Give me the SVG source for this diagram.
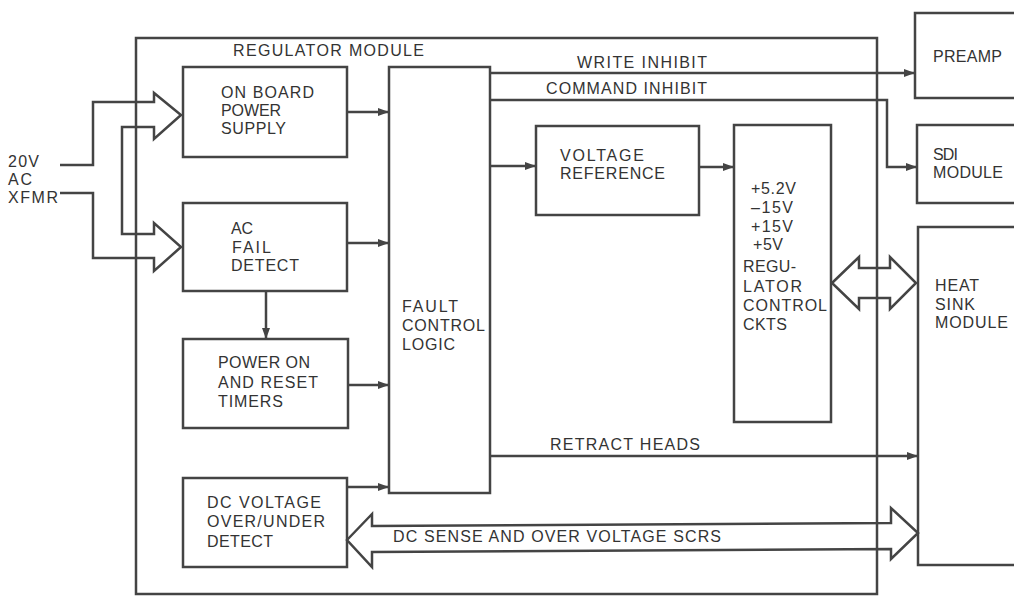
<svg xmlns="http://www.w3.org/2000/svg" width="1014" height="597" viewBox="0 0 1014 597">
<style>
.box{fill:none;stroke:#444;stroke-width:2.5}
.ln{fill:none;stroke:#444;stroke-width:2.5;stroke-linejoin:miter}
.ar{marker-end:url(#ah)}
.t{font-family:"Liberation Sans",Arial,Helvetica,sans-serif;font-size:16px;fill:#333}
.s{font-size:16px}
</style>
<defs>
<marker id="ah" markerUnits="userSpaceOnUse" markerWidth="11" markerHeight="8" refX="11" refY="4" orient="auto">
<path d="M0,0 L11,4 L0,8 z" fill="#444"/>
</marker>
</defs>
<rect width="1014" height="597" fill="#fff"/>

<g id="connectors">
<path class="ln" d="M60,165 H93 V102 H154 V93 L181,115 L154,139 V127 H122 V234 H154 V223 L181,247 L154,271 V258 H93 V193 H60"/>
<path class="ln ar" d="M347,112 H389"/>
<path class="ln ar" d="M347,243 H389"/>
<path class="ln ar" d="M266,291 V339"/>
<path class="ln ar" d="M348,385 H389"/>
<path class="ln ar" d="M347,487 H389"/>
<path class="ln ar" d="M490,166 H536"/>
<path class="ln ar" d="M699,167 H734"/>
<path class="ln ar" d="M490,73 H915"/>
<path class="ln ar" d="M490,100 H887 V167 H917"/>
<path class="ln ar" d="M490,456 H918"/>
<polygon class="ln" points="832,283 859,257 859,268 890,268 890,257 916,283 890,309 890,298 859,298 859,309"/>
<polygon class="ln" points="347,540 372,514 372,526 891,523 891,508 918,533 891,559 891,549 372,552 372,567"/>
<text class="t" x="550" y="450" textLength="150" lengthAdjust="spacing">RETRACT HEADS</text>
<text class="t" x="577" y="68" textLength="130" lengthAdjust="spacing">WRITE INHIBIT</text>
<text class="t" x="546" y="94" textLength="161" lengthAdjust="spacing">COMMAND INHIBIT</text>
<text class="t" x="393" y="542" textLength="328" lengthAdjust="spacing">DC SENSE AND OVER VOLTAGE SCRS</text>
</g>

<g id="input">
<text class="t" x="8" y="167" textLength="31" lengthAdjust="spacing">20V</text>
<text class="t" x="8" y="185" textLength="24" lengthAdjust="spacing">AC</text>
<text class="t" x="8" y="203" textLength="50" lengthAdjust="spacing">XFMR</text>
</g>

<g id="regulator-module">
<rect class="box" x="136" y="38" width="741" height="556"/>
<text class="t" x="233" y="56" textLength="191" lengthAdjust="spacing">REGULATOR MODULE</text>
</g>

<g id="on-board-power-supply">
<rect class="box" x="183" y="67" width="164" height="90"/>
<text class="t" x="221" y="98" textLength="93" lengthAdjust="spacing">ON BOARD</text>
<text class="t" x="221" y="116" textLength="60" lengthAdjust="spacing">POWER</text>
<text class="t" x="221" y="134" textLength="65" lengthAdjust="spacing">SUPPLY</text>
</g>

<g id="ac-fail-detect">
<rect class="box" x="183" y="203" width="164" height="88"/>
<text class="t" x="231" y="234" textLength="22" lengthAdjust="spacing">AC</text>
<text class="t" x="232" y="253" textLength="39" lengthAdjust="spacing">FAIL</text>
<text class="t" x="231" y="271" textLength="68" lengthAdjust="spacing">DETECT</text>
</g>

<g id="power-on-reset-timers">
<rect class="box" x="183" y="339" width="165" height="89"/>
<text class="t" x="218" y="368" textLength="92" lengthAdjust="spacing">POWER ON</text>
<text class="t" x="218" y="388" textLength="100" lengthAdjust="spacing">AND RESET</text>
<text class="t" x="218" y="407" textLength="65" lengthAdjust="spacing">TIMERS</text>
</g>

<g id="dc-voltage-detect">
<rect class="box" x="183" y="478" width="164" height="89"/>
<text class="t" x="207" y="508" textLength="114" lengthAdjust="spacing">DC VOLTAGE</text>
<text class="t" x="207" y="527" textLength="118" lengthAdjust="spacing">OVER/UNDER</text>
<text class="t" x="207" y="547" textLength="66" lengthAdjust="spacing">DETECT</text>
</g>

<g id="fault-control-logic">
<rect class="box" x="389" y="67" width="101" height="426"/>
<text class="t" x="402" y="312" textLength="56" lengthAdjust="spacing">FAULT</text>
<text class="t" x="402" y="331" textLength="83" lengthAdjust="spacing">CONTROL</text>
<text class="t" x="402" y="350" textLength="53" lengthAdjust="spacing">LOGIC</text>
</g>

<g id="voltage-reference">
<rect class="box" x="536" y="126" width="163" height="89"/>
<text class="t" x="560" y="161" textLength="84" lengthAdjust="spacing">VOLTAGE</text>
<text class="t" x="560" y="179" textLength="105" lengthAdjust="spacing">REFERENCE</text>
</g>

<g id="regulator-control-ckts">
<rect class="box" x="734" y="125" width="97" height="297"/>
<text class="t s" x="751" y="194" textLength="45" lengthAdjust="spacing">+5.2V</text>
<text class="t s" x="751" y="213" textLength="42" lengthAdjust="spacing">–15V</text>
<text class="t s" x="751" y="232" textLength="42" lengthAdjust="spacing">+15V</text>
<text class="t s" x="753" y="250" textLength="30" lengthAdjust="spacing">+5V</text>
<text class="t s" x="743" y="272" textLength="53" lengthAdjust="spacing">REGU-</text>
<text class="t s" x="743" y="292" textLength="59" lengthAdjust="spacing">LATOR</text>
<text class="t s" x="743" y="311" textLength="84" lengthAdjust="spacing">CONTROL</text>
<text class="t s" x="743" y="330" textLength="44" lengthAdjust="spacing">CKTS</text>
</g>

<g id="preamp">
<rect class="box" x="915" y="13" width="110" height="85"/>
<text class="t" x="933" y="62" textLength="69" lengthAdjust="spacing">PREAMP</text>
</g>

<g id="sdi-module">
<rect class="box" x="917" y="125" width="110" height="78"/>
<text class="t" x="933" y="160" textLength="25" lengthAdjust="spacing">SDI</text>
<text class="t" x="933" y="178" textLength="70" lengthAdjust="spacing">MODULE</text>
</g>

<g id="heat-sink-module">
<rect class="box" x="918" y="227" width="110" height="338"/>
<text class="t" x="935" y="291" textLength="44" lengthAdjust="spacing">HEAT</text>
<text class="t" x="935" y="310" textLength="40" lengthAdjust="spacing">SINK</text>
<text class="t" x="935" y="328" textLength="73" lengthAdjust="spacing">MODULE</text>
</g>
</svg>
